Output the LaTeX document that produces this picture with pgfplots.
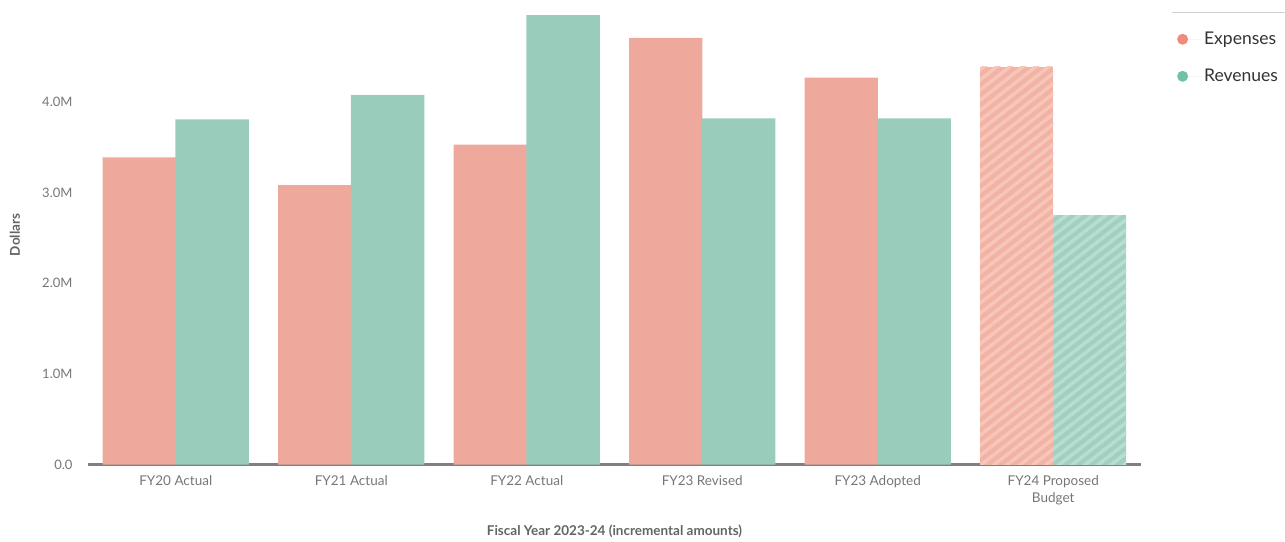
\documentclass[border=0pt]{standalone}
\usepackage{pgfplots}
\pgfplotsset{compat=1.18}
\usepackage{fontspec}
\setmainfont{Lato}
\usetikzlibrary{patterns.meta}

\definecolor{expense}{RGB}{238,168,156}
\definecolor{revenue}{RGB}{153,204,187}
\definecolor{expenseH}{RGB}{242,178,164}
\definecolor{expenseS}{RGB}{246,198,187}
\definecolor{revenueH}{RGB}{160,208,192}
\definecolor{revenueS}{RGB}{186,221,209}
\definecolor{expenseDot}{RGB}{238,139,125}
\definecolor{revenueDot}{RGB}{110,195,166}
\definecolor{ticktext}{RGB}{118,118,118}
\definecolor{titletext}{RGB}{100,100,100}
\definecolor{baseline}{RGB}{128,128,128}

\begin{document}
\begin{tikzpicture}[x=1pt,y=1pt]
\useasboundingbox (0,0) rectangle (1285,541);
\begin{axis}[
  at={(88pt,76.5pt)}, anchor=south west,
  scale only axis, width=1053pt, height=462pt,
  xmin=-0.5, xmax=5.5, ymin=0, ymax=5100000,
  ybar, bar width=0.418,
  axis x line*=bottom, axis y line*=left,
  x axis line style={-, draw=baseline, line width=3pt},
  y axis line style={draw=none},
  major tick length=0pt,
  xtick={0,1,2,3,4,5},
  xticklabels={FY20 Actual, FY21 Actual, FY22 Actual, FY23 Revised, FY23 Adopted, {FY24 Proposed\\Budget}},
  xticklabel style={font=\fontsize{13.5}{17}\selectfont, text=ticktext, align=center, yshift=-8pt},
  ytick={0,1000000,2000000,3000000,4000000},
  yticklabels={0.0,1.0M,2.0M,3.0M,4.0M},
  scaled y ticks=false,
  /pgf/number format/assume math mode=true,
  yticklabel style={font=\fontsize{13}{15}\selectfont, text=ticktext, anchor=east, xshift=-12pt},
  xlabel={Fiscal Year 2023-24 (incremental amounts)},
  xlabel style={font=\bfseries\fontsize{13.5}{16}\selectfont, text=titletext, at={(axis description cs:0.5,-0.1455)}, anchor=center},
  ylabel={Dollars},
  ylabel style={font=\bfseries\fontsize{13.5}{16}\selectfont, text=titletext, at={(axis description cs:-0.0693,0.497)}, anchor=center},
  legend style={draw=none, fill=none, font=\fontsize{17.5}{20}\selectfont, text=black!80, row sep=19pt,
    at={(axis description cs:1.0313,0.9447)}, anchor=north west},
  legend cell align=left,
  clip=false,
]
% actual, revised and adopted years
\addplot[fill=expense, draw=none, bar shift=-0.2075,
  legend image code/.code={\fill[expenseDot] (0pt,0pt) circle (5.5pt); \path (0pt,0pt) -- (19.5pt,0pt);}]
  coordinates {(0,3390000) (1,3085000) (2,3530000) (3,4710000) (4,4270000)};
\addlegendentry{Expenses}
\addplot[fill=revenue, draw=none, bar shift=0.2075,
  legend image code/.code={\fill[revenueDot] (0pt,0pt) circle (5.5pt); \path (0pt,0pt) -- (19.5pt,0pt);}]
  coordinates {(0,3810000) (1,4080000) (2,4960000) (3,3820000) (4,3820000)};
\addlegendentry{Revenues}
% proposed budget, hatched
\addplot[forget plot, fill=expenseH, draw=none, bar shift=-0.2075,
  postaction={pattern={Lines[angle=38,distance=8pt,line width=3.5pt]}, pattern color=expenseS}]
  coordinates {(5,4390000)};
\addplot[forget plot, fill=revenueH, draw=none, bar shift=0.2075,
  postaction={pattern={Lines[angle=38,distance=8pt,line width=3.5pt]}, pattern color=revenueS}]
  coordinates {(5,2750000)};
\end{axis}
\draw[black!18, line width=0.8pt] (1172,529) -- (1285,529);
\end{tikzpicture}
\end{document}
